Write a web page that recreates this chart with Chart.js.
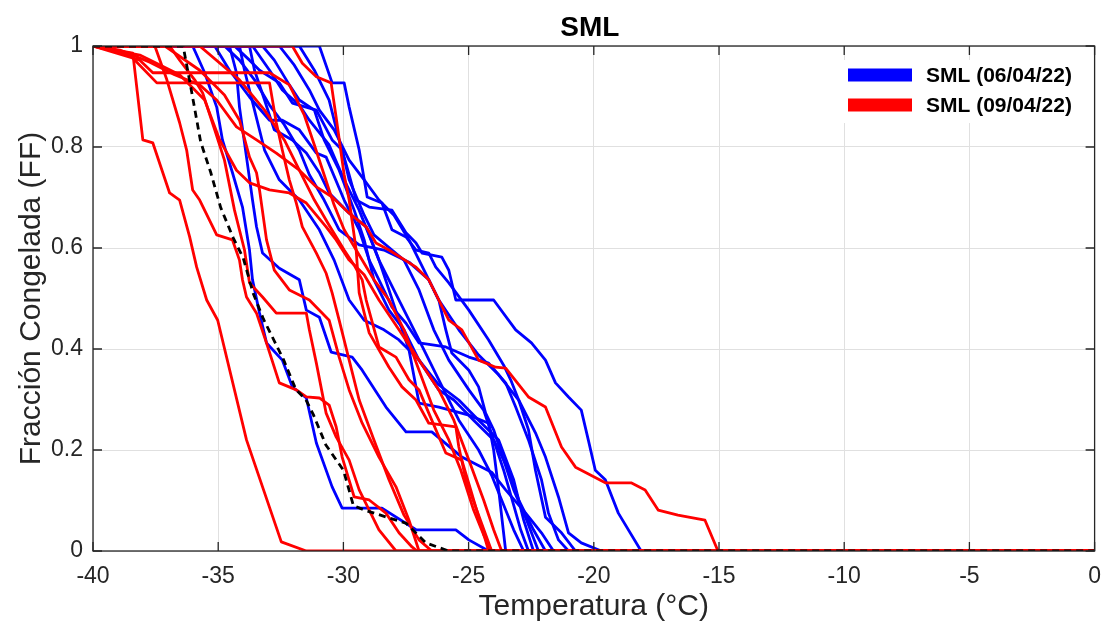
<!DOCTYPE html>
<html><head><meta charset="utf-8">
<script src="https://cdn.jsdelivr.net/npm/chart.js@4.4.1/dist/chart.umd.min.js"></script>
<style>html,body{margin:0;padding:0;background:#fff}#wrap{width:1113px;height:629px;position:relative}</style>
</head><body><div id="wrap"><canvas id="c" width="1113" height="629"></canvas></div>
<script>
// ---- data (temperature °C, frozen fraction) ----
const chartTitle = 'SML';
const xTitle = 'Temperatura (°C)';
const yTitle = 'Fracción Congelada (FF)';
const xTicks = [-40,-35,-30,-25,-20,-15,-10,-5,0];
const yTicks = [0,0.2,0.4,0.6,0.8,1];
const seriesNames = ['SML (06/04/22)','SML (09/04/22)'];

// mean curve (black dashed)
const tMean = [-40,-36.4,-36.1,-35.7,-35.3,-34.9,-34.4,-34.0,-33.6,-33.2,-32.4,-31.9,-31.5,-31.2,-30.7,-30.0,-29.6,-29.1,-27.5,-26.7,-25.8,0];
const fMean = [1,1,0.92,0.81,0.75,0.68,0.62,0.58,0.51,0.46,0.38,0.32,0.30,0.27,0.21,0.16,0.09,0.08,0.055,0.016,0,0];

// 09/04/22 (red)
const tR1 = [-40,-38.41,-38.01,-37.61,-36.94,-36.54,-36.14,-35.86,-35.46,-35.02,-33.87,-32.48,-31.48,0];
const fR1 = [1,0.986,0.814,0.808,0.709,0.695,0.622,0.562,0.497,0.457,0.220,0.018,0,0];
const tR2 = [-40,-37.53,-37.05,-36.54,-36.26,-36.02,-35.74,-35.06,-34.43,-34.15,-34.03,-33.87,-33.47,-33.07,-32.56,-31.88,-31.48,-30.96,-30.57,-30.29,-30.05,-29.57,-28.97,-28.30,-27.78,-27.26,-27.06,0];
const fR2 = [1,1,0.933,0.848,0.794,0.715,0.695,0.626,0.616,0.576,0.537,0.503,0.471,0.412,0.333,0.319,0.305,0.303,0.289,0.246,0.186,0.107,0.101,0.075,0.036,0.008,0,0];
const tR3 = [-40,-36.94,-36.54,-35.94,-35.62,-35.14,-34.75,-34.35,-33.95,-33.75,-33.23,-32.68,-31.48,-31.36,-31.08,-30.69,-30.29,-29.77,-29.37,-28.58,-27.90,0];
const fR3 = [1,1,0.972,0.933,0.907,0.834,0.774,0.675,0.596,0.531,0.503,0.471,0.471,0.438,0.372,0.273,0.226,0.180,0.121,0.042,0,0];
const tR4 = [-40,-37.13,-35.74,-34.75,-34.15,-33.75,-33.47,-33.35,-33.07,-32.76,-32.16,-31.36,-30.57,-30.17,-29.77,-29.25,-28.58,-27.90,-27.38,-26.98,0];
const fR4 = [1,1,0.952,0.903,0.853,0.780,0.749,0.715,0.616,0.556,0.517,0.497,0.457,0.384,0.319,0.253,0.186,0.127,0.061,0,0];
const tR5 = [-40,-38.93,-37.73,-36.74,-35.74,-35.06,-34.27,-33.47,-32.68,-31.76,-31.08,-30.45,-29.77,-29.09,-28.70,-28.18,-27.10,-26.59,-25.79,-25.27,-24.60,-23.92,-23.52,-22.61,-21.93,-21.29,-20.73,-19.54,-18.51,-17.95,-17.43,-16.64,-15.56,-15.04,0];
const fR5 = [1,0.992,0.968,0.943,0.923,0.893,0.840,0.814,0.788,0.754,0.721,0.701,0.669,0.642,0.610,0.596,0.562,0.537,0.457,0.438,0.378,0.364,0.362,0.305,0.285,0.206,0.166,0.135,0.135,0.121,0.081,0.071,0.061,0,0];
const tR6 = [-40,-38.53,-37.45,-36.14,-32.95,-32.68,-32.44,-32.16,-31.88,-31.64,-31.08,-30.69,-30.45,-30.17,-29.77,-29.37,-28.78,-28.18,-27.58,-26.98,-26.47,0];
const fR6 = [1,0.982,0.927,0.927,0.927,0.848,0.794,0.735,0.689,0.642,0.590,0.550,0.511,0.457,0.378,0.299,0.220,0.141,0.071,0.022,0,0];
const tR7 = [-40,-38.13,-37.61,-32.95,-32.16,-31.56,-31.16,-30.77,-30.37,-29.97,-29.37,-28.78,-28.18,-27.58,-26.98,-26.39,-25.79,-25.31,-24.80,-24.40,-24.08,0];
const fR7 = [1,0.972,0.947,0.947,0.923,0.863,0.804,0.745,0.685,0.636,0.586,0.537,0.497,0.438,0.358,0.279,0.220,0.160,0.081,0.032,0,0];
const tR8 = [-40,-32.04,-31.64,-31.08,-30.49,-30.29,-29.97,-29.77,-29.49,-29.37,-28.97,-28.18,-27.66,-27.10,-26.59,-25.51,-25.39,-25.11,-24.72,-24.08,0];
const fR8 = [1,1,0.966,0.939,0.927,0.859,0.745,0.695,0.596,0.511,0.432,0.364,0.325,0.299,0.253,0.246,0.206,0.141,0.087,0,0];
const tR9 = [-40,-38.13,-36.54,-35.54,-34.94,-34.27,-33.75,-32.95,-32.16,-31.48,-30.69,-30.29,-29.77,-29.17,-28.58,-27.78,-26.98,-26.19,-25.59,-24.99,-24.40,-24.00,-23.68,0];
const fR9 = [1,0.982,0.943,0.893,0.814,0.754,0.729,0.715,0.709,0.689,0.642,0.616,0.576,0.547,0.497,0.438,0.378,0.319,0.259,0.180,0.101,0.042,0,0];
const tR10 = [-40,-35.74,-34.15,-33.15,-32.36,-31.76,-31.16,-30.57,-29.97,-29.57,-29.25,-29.09,-28.58,-27.90,-27.38,-26.98,-26.59,-25.91,-25.27,-24.88,-24.20,0];
const fR10 = [1,1,0.933,0.873,0.814,0.754,0.695,0.645,0.596,0.566,0.537,0.497,0.404,0.384,0.339,0.319,0.273,0.194,0.180,0.115,0,0];

// 06/04/22 (blue)
const tB1 = [-40,-36.02,-35.54,-35.06,-34.83,-34.43,-34.03,-33.75,-33.63,-33.35,-33.07,-32.44,-32.04,-31.48,-31.08,-30.45,-30.05,-28.46,-27.10,-25.51,-24.99,-24.20,0];
const fB1 = [1,1,0.947,0.879,0.814,0.749,0.681,0.596,0.537,0.471,0.412,0.378,0.325,0.303,0.214,0.127,0.085,0.085,0.042,0.042,0.022,0,0];
const tB2 = [-40,-34.55,-34.27,-34.15,-33.87,-33.63,-33.47,-33.23,-32.56,-31.76,-31.48,-30.96,-30.49,-29.65,-29.25,-28.30,-27.50,-26.47,-25.27,-24.08,-23.52,-22.72,-22.09,-21.61,0];
const fB2 = [1,1,0.947,0.879,0.780,0.695,0.642,0.590,0.560,0.537,0.477,0.463,0.394,0.384,0.358,0.285,0.236,0.236,0.186,0.156,0.121,0.075,0.036,0,0];
const tB3 = [-40,-30.96,-30.45,-29.97,-29.77,-29.37,-29.05,-28.46,-28.06,-27.50,-27.10,-26.59,-26.31,-25.79,-24.99,-24.20,-23.60,-23.32,-23.00,-22.33,-21.93,-21.41,-21.01,-20.50,-19.70,0];
const fB3 = [1,1,0.927,0.927,0.879,0.794,0.701,0.689,0.636,0.622,0.596,0.590,0.562,0.531,0.477,0.418,0.368,0.339,0.299,0.234,0.186,0.107,0.036,0.016,0,0];
const tB4 = [-40,-31.76,-31.16,-30.57,-30.17,-29.77,-29.49,-28.97,-28.06,-27.50,-27.10,-26.86,-26.07,-25.79,-25.51,-24.00,-23.12,-22.49,-21.93,-21.53,-21.01,-20.50,-20.22,-19.94,-19.54,-19.02,-18.11,0];
const fB4 = [1,1,0.952,0.893,0.814,0.745,0.695,0.681,0.675,0.630,0.610,0.590,0.582,0.556,0.497,0.497,0.438,0.412,0.378,0.333,0.305,0.279,0.220,0.160,0.141,0.075,0,0];
const tB5 = [-40,-33.63,-32.95,-32.44,-31.76,-31.36,-30.57,-29.97,-29.37,-28.58,-27.78,-26.98,-26.19,-25.39,-24.60,-24.08,-23.60,-23.20,-22.80,0];
const fB5 = [1,1,0.952,0.913,0.883,0.853,0.804,0.735,0.675,0.576,0.497,0.418,0.339,0.259,0.200,0.150,0.091,0.042,0,0];
const tB6 = [-40,-33.23,-32.76,-32.16,-31.76,-31.16,-30.77,-30.17,-29.57,-29.17,-28.78,-28.18,-27.58,-26.98,-26.19,-25.59,-24.80,-24.00,-23.40,-23.00,-22.41,-21.93,0];
const fB6 = [1,1,0.972,0.923,0.893,0.873,0.814,0.754,0.675,0.616,0.537,0.477,0.438,0.378,0.319,0.299,0.259,0.220,0.160,0.101,0.042,0,0];
const tB7 = [-40,-34.35,-33.75,-33.35,-32.56,-32.04,-31.08,-30.45,-30.05,-29.77,-29.17,-28.78,-28.06,-27.58,-26.98,-26.39,-25.79,-24.99,-24.40,-24.00,-23.60,-23.20,-22.92,-22.61,0];
const fB7 = [1,1,0.972,0.952,0.927,0.887,0.873,0.814,0.794,0.735,0.665,0.626,0.596,0.576,0.517,0.438,0.378,0.319,0.279,0.220,0.160,0.091,0.042,0,0];
const tB8 = [-40,-35.14,-34.55,-33.75,-32.95,-32.44,-31.76,-31.08,-30.69,-29.97,-29.37,-28.97,-28.58,-28.06,-27.50,-26.98,-25.91,-24.99,-24.20,-23.52,-23.12,-22.61,-22.09,-21.81,-21.41,-21.01,0];
const fB8 = [1,1,0.952,0.899,0.853,0.853,0.834,0.788,0.780,0.695,0.636,0.576,0.537,0.483,0.451,0.412,0.404,0.384,0.372,0.333,0.285,0.220,0.141,0.075,0.022,0,0];
const tB9 = [-40,-33.75,-33.55,-33.15,-32.76,-32.04,-31.48,-30.96,-30.57,-29.77,-29.09,-28.58,-28.18,-27.78,-27.38,-26.98,-26.19,-24.99,-24.20,-24.00,-23.80,-23.52,0];
const fB9 = [1,1,0.952,0.893,0.834,0.814,0.788,0.749,0.709,0.669,0.642,0.576,0.517,0.457,0.398,0.293,0.285,0.269,0.253,0.200,0.121,0,0];
const tB10 = [-40,-34.75,-34.15,-33.55,-32.95,-32.36,-31.76,-31.36,-30.77,-30.17,-29.37,-28.38,-27.38,-26.59,-26.19,-25.91,-25.67,-24.99,-24.60,-24.32,-24.00,-23.60,-23.20,-22.68,-22.21,0];
const fB10 = [1,1,0.972,0.933,0.883,0.844,0.794,0.745,0.695,0.636,0.606,0.596,0.572,0.537,0.497,0.438,0.392,0.358,0.325,0.273,0.240,0.180,0.121,0.061,0,0];
const tB11 = [-40,-32.56,-31.96,-31.36,-30.96,-30.37,-29.77,-29.17,-28.58,-27.98,-27.38,-26.78,-26.19,-25.39,-24.60,-23.80,-23.00,-22.61,-22.33,-21.93,-21.29,-20.73,0];
const fB11 = [1,1,0.962,0.913,0.873,0.834,0.774,0.735,0.695,0.665,0.616,0.556,0.497,0.438,0.388,0.349,0.299,0.240,0.160,0.067,0.036,0,0];
const tB12 = [-40,-34.15,-33.95,-33.55,-33.15,-32.56,-31.76,-30.96,-30.37,-29.77,-29.17,-28.38,-27.78,-26.98,-26.19,-25.39,-24.60,-23.80,-23.20,-22.80,-22.41,0];
const fB12 = [1,1,0.952,0.873,0.794,0.735,0.695,0.636,0.576,0.497,0.457,0.438,0.418,0.378,0.329,0.299,0.259,0.220,0.141,0.061,0,0];

// ---- build ----
const BLUE = 'rgb(0,0,255)', RED = 'rgb(255,0,0)', BLACK = '#000000';
const FONT = "'Liberation Sans', Arial, Helvetica, sans-serif";
const AX = '#262626';
function pts(t, f){ return t.map((v,i)=>({x:v, y:f[i]})); }
function ds(t, f, color, dash){
  return {data: pts(t,f), borderColor: color, backgroundColor: color, borderWidth: 2.8,
    borderDash: dash || [], pointRadius: 0, pointHoverRadius: 0, tension: 0, fill: false,
    borderJoinStyle: 'round', borderCapStyle: 'butt'};
}
const reds = [[tR1,fR1],[tR2,fR2],[tR3,fR3],[tR4,fR4],[tR5,fR5],[tR6,fR6],[tR7,fR7],[tR8,fR8],[tR9,fR9],[tR10,fR10]];
const blues = [[tB1,fB1],[tB2,fB2],[tB3,fB3],[tB4,fB4],[tB5,fB5],[tB6,fB6],[tB7,fB7],[tB8,fB8],[tB9,fB9],[tB10,fB10],[tB11,fB11],[tB12,fB12]];
// first dataset is drawn on top in Chart.js
const datasets = [ds(tMean, fMean, BLACK, [7,5])]
  .concat(reds.map(r=>ds(r[0], r[1], RED)))
  .concat(blues.map(b=>ds(b[0], b[1], BLUE)));

const frame = {
  id: 'frame',
  afterDatasetsDraw(chart){
    const {ctx, chartArea: a, scales: {x, y}} = chart;
    ctx.save();
    ctx.strokeStyle = AX; ctx.lineWidth = 1.3;
    ctx.strokeRect(a.left, a.top, a.right - a.left, a.bottom - a.top);
    ctx.beginPath();
    const L = 9;
    xTicks.forEach(v=>{ const px = x.getPixelForValue(v);
      ctx.moveTo(px, a.bottom); ctx.lineTo(px, a.bottom - L);
      ctx.moveTo(px, a.top); ctx.lineTo(px, a.top + L); });
    yTicks.forEach(v=>{ const py = y.getPixelForValue(v);
      ctx.moveTo(a.left, py); ctx.lineTo(a.left + L, py);
      ctx.moveTo(a.right, py); ctx.lineTo(a.right - L, py); });
    ctx.stroke();
    // title, centred over the axes
    ctx.fillStyle = '#000'; ctx.textAlign = 'center'; ctx.textBaseline = 'middle';
    ctx.font = "bold 28px " + FONT;
    ctx.fillText(chartTitle, (a.left + a.right) / 2 - 4, 28);
    // legend
    const lx = 838, ly = 60, lw = 252, lh = 63;
    ctx.fillStyle = '#ffffff'; ctx.fillRect(lx, ly, lw, lh);
    const cols = [BLUE, RED];
    ctx.font = "bold 21px " + FONT; ctx.textBaseline = 'middle'; ctx.textAlign = 'left';
    seriesNames.forEach((n,i)=>{
      const cy = 75 + i*30;
      ctx.fillStyle = cols[i]; ctx.fillRect(848, cy - 6.5, 64, 13);
      ctx.fillStyle = '#000'; ctx.fillText(n, 926, cy + 1);
    });
    ctx.restore();
  }
};

new Chart(document.getElementById('c'), {
  type: 'line',
  data: { datasets },
  options: {
    responsive: false, animation: false, devicePixelRatio: 1,
    parsing: false, normalized: true,
    layout: { padding: { left: 0, right: 15, top: 46, bottom: 0 } },
    plugins: {
      legend: { display: false }, tooltip: { enabled: false }, title: { display: false }
    },
    scales: {
      x: { type: 'linear', min: -40, max: 0,
        afterFit(s){ s.height = 78; },
        afterBuildTicks(s){ s.ticks = xTicks.map(v=>({value:v})); },
        ticks: { color: AX, font: { family: FONT, size: 23 }, padding: 12, maxRotation: 0,
          callback: v => String(v) },
        grid: { color: '#e0e0e0', lineWidth: 1, drawTicks: false },
        border: { display: false },
        title: { display: true, text: xTitle, color: AX, font: { family: FONT, size: 30 }, padding: { top: 0, bottom: 4 } } },
      y: { type: 'linear', min: 0, max: 1,
        afterFit(s){ s.width = 93; },
        afterBuildTicks(s){ s.ticks = yTicks.map(v=>({value:v})); },
        ticks: { color: AX, font: { family: FONT, size: 23 }, padding: 10,
          callback: v => String(Math.round(v*10)/10) },
        grid: { color: '#e0e0e0', lineWidth: 1, drawTicks: false },
        border: { display: false },
        title: { display: true, text: yTitle, color: AX, font: { family: FONT, size: 30 }, padding: { top: 14, bottom: 0 } } }
    }
  },
  plugins: [frame]
});
</script></body></html>
